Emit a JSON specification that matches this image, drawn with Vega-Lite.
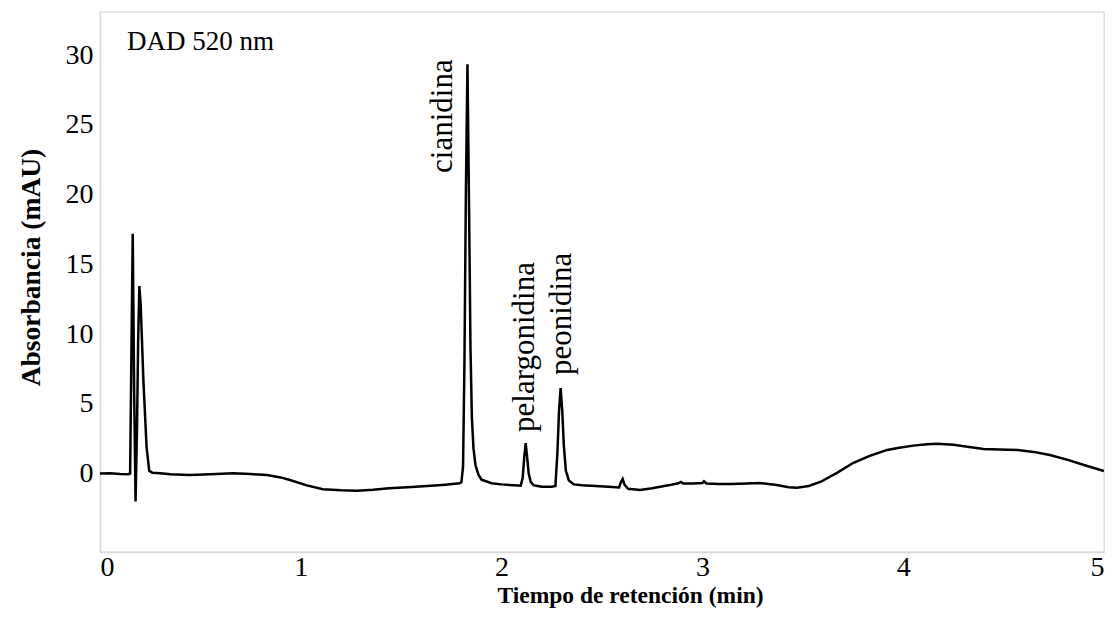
{
  "$schema": "https://vega.github.io/schema/vega-lite/v6.json",
  "width": 1004,
  "height": 540,
  "autosize": {"type": "none"},
  "padding": {"left": 100, "top": 12, "right": 11, "bottom": 85},
  "background": "white",
  "config": {
    "view": {"stroke": "#d9d9d9", "strokeWidth": 1.3},
    "font": "Liberation Serif"
  },
  "datasets": {
    "chrom": [
      {"t": 0.00, "v": 0.0}, {"t": 0.05, "v": 0.02}, {"t": 0.10, "v": -0.03}, {"t": 0.14, "v": -0.05},
      {"t": 0.150, "v": 0.0}, {"t": 0.156, "v": 8.0}, {"t": 0.163, "v": 17.2}, {"t": 0.170, "v": 6.0},
      {"t": 0.177, "v": -2.0}, {"t": 0.184, "v": 3.0}, {"t": 0.190, "v": 9.5}, {"t": 0.196, "v": 13.45},
      {"t": 0.203, "v": 12.0}, {"t": 0.216, "v": 6.7}, {"t": 0.232, "v": 1.9}, {"t": 0.245, "v": 0.2},
      {"t": 0.26, "v": 0.06}, {"t": 0.30, "v": 0.02}, {"t": 0.35, "v": -0.05}, {"t": 0.448, "v": -0.11},
      {"t": 0.55, "v": -0.05}, {"t": 0.662, "v": 0.01}, {"t": 0.75, "v": -0.04}, {"t": 0.832, "v": -0.11},
      {"t": 0.90, "v": -0.28}, {"t": 0.946, "v": -0.47}, {"t": 1.03, "v": -0.85}, {"t": 1.11, "v": -1.13},
      {"t": 1.20, "v": -1.2}, {"t": 1.28, "v": -1.23}, {"t": 1.36, "v": -1.17}, {"t": 1.44, "v": -1.06},
      {"t": 1.53, "v": -0.98}, {"t": 1.63, "v": -0.9}, {"t": 1.72, "v": -0.8}, {"t": 1.79, "v": -0.70},
      {"t": 1.800, "v": -0.62}, {"t": 1.808, "v": 0.5}, {"t": 1.815, "v": 8}, {"t": 1.822, "v": 20},
      {"t": 1.830, "v": 29.35}, {"t": 1.838, "v": 19}, {"t": 1.845, "v": 9}, {"t": 1.852, "v": 4},
      {"t": 1.860, "v": 1.8}, {"t": 1.870, "v": 0.6}, {"t": 1.885, "v": -0.1}, {"t": 1.90, "v": -0.45},
      {"t": 1.95, "v": -0.7}, {"t": 2.00, "v": -0.78}, {"t": 2.06, "v": -0.85}, {"t": 2.095, "v": -0.88},
      {"t": 2.105, "v": -0.3}, {"t": 2.113, "v": 1.2}, {"t": 2.120, "v": 2.17}, {"t": 2.127, "v": 1.2},
      {"t": 2.135, "v": 0.0}, {"t": 2.145, "v": -0.6}, {"t": 2.16, "v": -0.85}, {"t": 2.20, "v": -0.95},
      {"t": 2.25, "v": -0.95}, {"t": 2.268, "v": -0.9}, {"t": 2.278, "v": 1.5}, {"t": 2.286, "v": 4.5},
      {"t": 2.294, "v": 6.13}, {"t": 2.302, "v": 4.5}, {"t": 2.310, "v": 2.0}, {"t": 2.320, "v": 0.2},
      {"t": 2.335, "v": -0.5}, {"t": 2.36, "v": -0.78}, {"t": 2.40, "v": -0.85}, {"t": 2.47, "v": -0.9},
      {"t": 2.55, "v": -0.97}, {"t": 2.585, "v": -1.0}, {"t": 2.595, "v": -0.6}, {"t": 2.603, "v": -0.4},
      {"t": 2.612, "v": -0.8}, {"t": 2.63, "v": -1.1}, {"t": 2.69, "v": -1.18}, {"t": 2.75, "v": -1.05},
      {"t": 2.83, "v": -0.85}, {"t": 2.88, "v": -0.70}, {"t": 2.893, "v": -0.6}, {"t": 2.905, "v": -0.72},
      {"t": 2.95, "v": -0.72}, {"t": 3.00, "v": -0.68}, {"t": 3.008, "v": -0.56}, {"t": 3.02, "v": -0.72},
      {"t": 3.08, "v": -0.75}, {"t": 3.14, "v": -0.75}, {"t": 3.22, "v": -0.72}, {"t": 3.29, "v": -0.68},
      {"t": 3.37, "v": -0.82}, {"t": 3.43, "v": -0.98}, {"t": 3.47, "v": -1.02}, {"t": 3.53, "v": -0.9},
      {"t": 3.59, "v": -0.59}, {"t": 3.67, "v": 0.05}, {"t": 3.75, "v": 0.75}, {"t": 3.83, "v": 1.25},
      {"t": 3.92, "v": 1.69}, {"t": 3.98, "v": 1.85}, {"t": 4.05, "v": 2.0}, {"t": 4.12, "v": 2.09},
      {"t": 4.17, "v": 2.14}, {"t": 4.25, "v": 2.07}, {"t": 4.32, "v": 1.92}, {"t": 4.40, "v": 1.76},
      {"t": 4.48, "v": 1.72}, {"t": 4.57, "v": 1.69}, {"t": 4.65, "v": 1.55}, {"t": 4.73, "v": 1.33},
      {"t": 4.82, "v": 0.98}, {"t": 4.90, "v": 0.61}, {"t": 4.95, "v": 0.4}, {"t": 5.00, "v": 0.18}
    ],
    "peaks": [
      {"t": 1.708, "v": 21.56, "label": "cianidina"},
      {"t": 2.117, "v": 2.98, "label": "pelargonidina"},
      {"t": 2.299, "v": 7.07, "label": "peonidina"}
    ],
    "note": [
      {"t": 0.134, "v": 30.95, "label": "DAD 520 nm"}
    ]
  },
  "layer": [
    {
      "data": {"name": "chrom"},
      "mark": {"type": "line", "color": "black", "strokeWidth": 2.5, "clip": true},
      "encoding": {
        "x": {
          "field": "t", "type": "quantitative",
          "scale": {"domain": [0, 5], "nice": false, "zero": false},
          "axis": {
            "values": [0, 1, 2, 3, 4, 5], "format": "d", "grid": false, "ticks": false,
            "domainColor": "#d9d9d9", "domainWidth": 1.3,
            "labelFont": "Liberation Serif", "labelFontSize": 28, "labelColor": "black", "labelPadding": 1,
            "title": "Tiempo de retención (min)", "titleFont": "Liberation Serif", "titleFontSize": 23.5,
            "titleFontWeight": "bold", "titleColor": "black", "titlePadding": 2, "titleX": 530
          }
        },
        "y": {
          "field": "v", "type": "quantitative",
          "scale": {"domain": [-5.63, 33.1], "nice": false, "zero": false},
          "axis": {
            "values": [0, 5, 10, 15, 20, 25, 30], "format": "d", "grid": false, "ticks": false,
            "domainColor": "#d9d9d9", "domainWidth": 1.3,
            "labelFont": "Liberation Serif", "labelFontSize": 28, "labelColor": "black", "labelPadding": 7,
            "title": "Absorbancia (mAU)", "titleFont": "Liberation Serif", "titleFontSize": 27.5,
            "titleFontWeight": "bold", "titleColor": "black", "titlePadding": 20, "titleY": 255
          }
        }
      }
    },
    {
      "data": {"name": "peaks"},
      "mark": {"type": "text", "angle": 270, "align": "left", "baseline": "middle", "font": "Liberation Serif", "fontSize": 31, "color": "black"},
      "encoding": {
        "x": {"field": "t", "type": "quantitative"},
        "y": {"field": "v", "type": "quantitative"},
        "text": {"field": "label"}
      }
    },
    {
      "data": {"name": "note"},
      "mark": {"type": "text", "align": "left", "baseline": "middle", "font": "Liberation Serif", "fontSize": 27, "color": "black"},
      "encoding": {
        "x": {"field": "t", "type": "quantitative"},
        "y": {"field": "v", "type": "quantitative"},
        "text": {"field": "label"}
      }
    }
  ]
}
